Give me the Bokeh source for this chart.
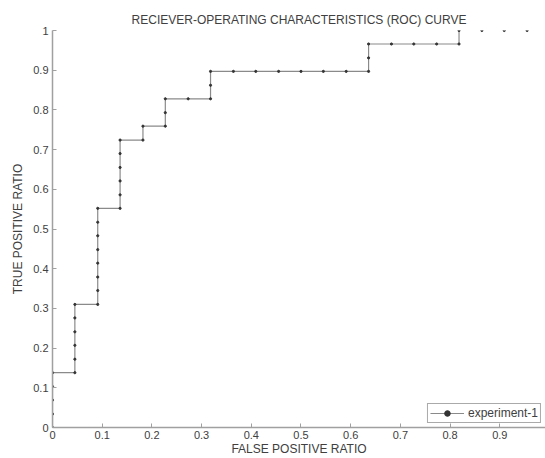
from bokeh.plotting import figure
from bokeh.models import (ColumnDataSource, Legend, LegendItem, FixedTicker,
                          CustomJSTickFormatter, Range1d)
from bokeh.embed import file_html
from bokeh.resources import INLINE

# ROC curve points (false positive ratio, true positive ratio)
fpr = [0.0, 0.0, 0.0, 0.0, 0.0,
       0.045, 0.045, 0.045, 0.045, 0.045, 0.045,
       0.091, 0.091, 0.091, 0.091, 0.091, 0.091, 0.091, 0.091,
       0.136, 0.136, 0.136, 0.136, 0.136, 0.136,
       0.182, 0.182,
       0.227, 0.227, 0.227,
       0.273,
       0.318, 0.318, 0.318,
       0.364, 0.409, 0.455, 0.5, 0.545, 0.591, 0.636,
       0.636, 0.636,
       0.682, 0.727, 0.773, 0.818,
       0.818,
       0.864, 0.909, 0.955]
tpr = [0.0, 0.034, 0.069, 0.103, 0.138,
       0.138, 0.172, 0.207, 0.241, 0.276, 0.310,
       0.310, 0.345, 0.379, 0.414, 0.448, 0.483, 0.517, 0.552,
       0.552, 0.586, 0.621, 0.655, 0.690, 0.724,
       0.724, 0.759,
       0.759, 0.793, 0.828,
       0.828,
       0.828, 0.862, 0.897,
       0.897, 0.897, 0.897, 0.897, 0.897, 0.897, 0.897,
       0.931, 0.966,
       0.966, 0.966, 0.966, 0.966,
       1.0,
       1.0, 1.0, 1.0]
n_line = 48  # points joined by the visible line

x_ticks = [0, 0.1, 0.2, 0.3, 0.4, 0.5, 0.6, 0.7, 0.8, 0.9]
y_ticks = [0, 0.1, 0.2, 0.3, 0.4, 0.5, 0.6, 0.7, 0.8, 0.9, 1.0]

title_text = "RECIEVER-OPERATING CHARACTERISTICS (ROC) CURVE"
x_label = "FALSE POSITIVE RATIO"
y_label = "TRUE POSITIVE RATIO"
series_name = "experiment-1"

FONT = "Liberation Sans"
TXT = "#404040"
AX = "#a0a0a0"

p = figure(width=545, height=458, output_backend="svg", toolbar_location=None,
           x_range=Range1d(0, 0.992), y_range=Range1d(0, 1.0),
           min_border_left=52, min_border_right=0, min_border_top=30,
           min_border_bottom=30)
p.outline_line_color = None
p.xgrid.visible = False
p.ygrid.visible = False
p.background_fill_color = "white"
p.border_fill_color = "white"

p.title.text = title_text
p.title.align = "center"
p.title.text_font = FONT
p.title.text_font_size = "12px"
p.title.text_font_style = "normal"
p.title.text_color = TXT
p.title.offset = 0
p.title.standoff = 8

fmt = CustomJSTickFormatter(code="return tick.toFixed(1).replace(/\\.0$/, '');")
for ax, ticks in ((p.xaxis[0], x_ticks), (p.yaxis[0], y_ticks)):
    ax.ticker = FixedTicker(ticks=ticks)
    ax.formatter = fmt
    ax.major_tick_in = 4
    ax.major_tick_out = 0
    ax.minor_tick_line_color = None
    ax.axis_line_color = AX
    ax.axis_line_width = 1.5
    ax.major_tick_line_color = AX
    ax.major_label_text_font = FONT
    ax.major_label_text_font_size = "11px"
    ax.major_label_text_color = TXT
    ax.axis_label_text_font = FONT
    ax.axis_label_text_font_size = "12px"
    ax.axis_label_text_font_style = "normal"
    ax.axis_label_text_color = TXT

p.xaxis.axis_label = x_label
p.yaxis.axis_label = y_label
p.xaxis.major_label_standoff = 3
p.xaxis.axis_label_standoff = 0
p.yaxis.major_label_standoff = 4
p.yaxis.axis_label_standoff = 5

line_src = ColumnDataSource(dict(x=fpr[:n_line], y=tpr[:n_line]))
pt_src = ColumnDataSource(dict(x=fpr, y=tpr))

ln = p.line("x", "y", source=line_src, line_color="#8a8a8a", line_width=1.2)
pts = p.scatter("x", "y", source=pt_src, size=2.2, marker="circle",
                fill_color="#333333", line_color="#333333")

legend = Legend(items=[LegendItem(label=series_name, renderers=[ln, pts])],
                location="bottom_right")
legend.label_text_font = FONT
legend.label_text_font_size = "12px"
legend.label_text_color = TXT
legend.border_line_color = "#555555"
legend.border_line_width = 1
legend.background_fill_alpha = 1
legend.padding = 2
legend.margin = 4
legend.spacing = 0
legend.glyph_width = 34
legend.glyph_height = 14
legend.label_height = 14
legend.label_standoff = 4
p.add_layout(legend)

open("out.html", "w").write(file_html(p, INLINE))
